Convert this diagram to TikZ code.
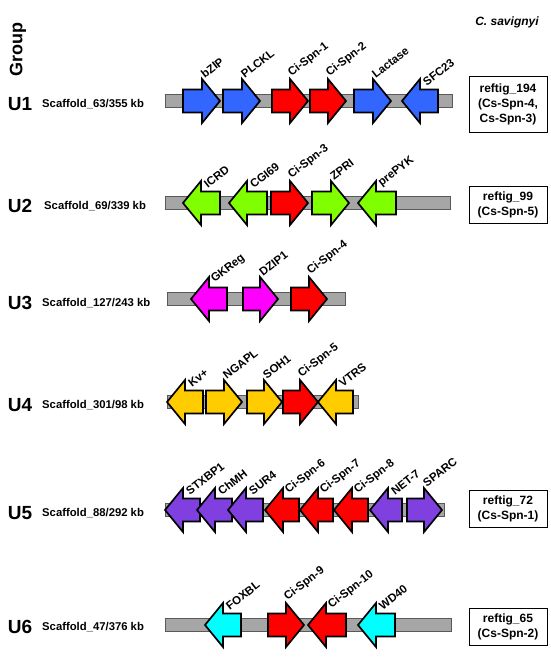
\documentclass[tikz,border=0pt]{standalone}
\usepackage{fontspec}
\setmainfont{Liberation Sans}
\definecolor{gblue}{RGB}{51,102,255}
\definecolor{gred}{RGB}{255,0,0}
\definecolor{ggreen}{RGB}{128,255,0}
\definecolor{gmag}{RGB}{255,0,255}
\definecolor{gyel}{RGB}{255,204,0}
\definecolor{gpur}{RGB}{128,64,224}
\definecolor{gcyan}{RGB}{0,255,255}
\definecolor{gbar}{RGB}{166,166,166}
\tikzset{
  genebox/.style={draw=black, line width=1.7pt, line join=miter},
  scafbar/.style={fill=gbar, draw=black!65, line width=0.9pt},
  glabel/.style={font=\bfseries\fontsize{11.5}{13}\selectfont, rotate=38, anchor=south west, inner sep=0pt},
  ulabel/.style={font=\bfseries\fontsize{19}{22}\selectfont, inner sep=0pt},
  scaf/.style={font=\bfseries\fontsize{11.3}{13}\selectfont, anchor=west, inner sep=0pt},
  refbox/.style={draw=black, line width=0.8pt, font=\bfseries\fontsize{12}{15}\selectfont, align=center, minimum width=78pt, inner sep=2pt},
}
% right-pointing gene: left x, tip x, centre y, colour, label
\newcommand{\geneR}[5]{%
  \filldraw[genebox, fill=#4] (#1,#3-11.5) -- (#2-18,#3-11.5) -- (#2-18,#3-22) -- (#2,#3) -- (#2-18,#3+22) -- (#2-18,#3+11.5) -- (#1,#3+11.5) -- cycle;
  \node[glabel] at (#2-15,#3-22) {#5};}
% left-pointing gene: tip x, right x, centre y, colour, label
\newcommand{\geneL}[5]{%
  \filldraw[genebox, fill=#4] (#2,#3-11.5) -- (#1+18,#3-11.5) -- (#1+18,#3-22) -- (#1,#3) -- (#1+18,#3+22) -- (#1+18,#3+11.5) -- (#2,#3+11.5) -- cycle;
  \node[glabel] at (#1+25,#3-14) {#5};}
\begin{document}
\begin{tikzpicture}[x=1pt,y=-1pt]
\useasboundingbox (0,0) rectangle (551,659);
\fill[white] (0,0) rectangle (551,659);

\node[ulabel, rotate=90, font=\bfseries\fontsize{18}{20}\selectfont] (grp) at (18,50) {Group};
\node[font=\bfseries\itshape\fontsize{12}{14}\selectfont, inner sep=0pt] (sp) at (507,22) {C. savignyi};

% U1
\node[ulabel] (u1) at (20,104) {U1};
\node[scaf] (s1) at (42,104) {Scaffold\_63/355 kb};
\draw[scafbar] (165,94.5) rectangle (452,107.5);
\geneR{183}{220}{101}{gblue}{bZIP}
\geneR{223}{260}{101}{gblue}{PLCKL}
\geneR{272}{308}{101}{gred}{Ci-Spn-1}
\geneR{310}{346}{101}{gred}{Ci-Spn-2}
\geneR{354}{391}{101}{gblue}{Lactase}
\geneL{402}{438}{101}{gblue}{SFC23}
\node[refbox, minimum height=56pt] (r1) at (508,104) {reftig\_194\\(Cs-Spn-4,\\Cs-Spn-3)};

% U2
\node[ulabel] (u2) at (20,206) {U2};
\node[scaf] (s2) at (44,206) {Scaffold\_69/339 kb};
\draw[scafbar] (165,196.5) rectangle (450,209.5);
\geneL{183}{220}{203}{ggreen}{ICRD}
\geneL{229}{267}{203}{ggreen}{CGI69}
\geneR{271}{308}{203}{gred}{Ci-Spn-3}
\geneR{312}{349}{203}{ggreen}{ZPRI}
\geneL{358}{396}{203}{ggreen}{prePYK}
\node[refbox, minimum height=37pt] (r2) at (508,205) {reftig\_99\\(Cs-Spn-5)};

% U3
\node[ulabel] (u3) at (20,303) {U3};
\node[scaf] (s3) at (42,303) {Scaffold\_127/243 kb};
\draw[scafbar] (167,292.5) rectangle (345,305.5);
\geneL{191}{227}{299}{gmag}{GKReg}
\geneR{243}{278}{299}{gmag}{DZIP1}
\geneR{291}{327}{299}{gred}{Ci-Spn-4}

% U4
\node[ulabel] (u4) at (20,405) {U4};
\node[scaf] (s4) at (42,405) {Scaffold\_301/98 kb};
\draw[scafbar] (167,395.5) rectangle (358,408.5);
\geneL{167}{203}{402}{gyel}{Kv+}
\geneR{206}{242}{402}{gyel}{NGAPL}
\geneR{247}{282}{402}{gyel}{SOH1}
\geneR{283}{318}{402}{gred}{Ci-Spn-5}
\geneL{318}{353}{402}{gyel}{VTRS}

% U5
\node[ulabel] (u5) at (20,513) {U5};
\node[scaf] (s5) at (42,513) {Scaffold\_88/292 kb};
\draw[scafbar] (165,503.5) rectangle (444,516.5);
\geneL{165}{200}{510}{gpur}{STXBP1}
\geneL{197}{232}{510}{gpur}{ChMH}
\geneL{228}{263}{510}{gpur}{SUR4}
\geneL{265}{299}{510}{gred}{Ci-Spn-6}
\geneL{300}{333}{510}{gred}{Ci-Spn-7}
\geneL{334}{368}{510}{gred}{Ci-Spn-8}
\geneL{370}{402}{510}{gpur}{NET-7}
\geneR{407}{442}{510}{gpur}{SPARC}
\node[refbox, minimum height=37pt] (r5) at (508,509) {reftig\_72\\(Cs-Spn-1)};

% U6
\node[ulabel] (u6) at (20,627) {U6};
\node[scaf] (s6) at (42,627) {Scaffold\_47/376 kb};
\draw[scafbar] (165,618.5) rectangle (451,631.5);
\geneL{205}{241}{625}{gcyan}{FOXBL}
\geneR{268}{304}{625}{gred}{Ci-Spn-9}
\geneL{308}{346}{625}{gred}{Ci-Spn-10}
\geneL{358}{395}{625}{gcyan}{WD40}
\node[refbox, minimum height=37pt] (r6) at (508,627) {reftig\_65\\(Cs-Spn-2)};
\end{tikzpicture}
\end{document}
